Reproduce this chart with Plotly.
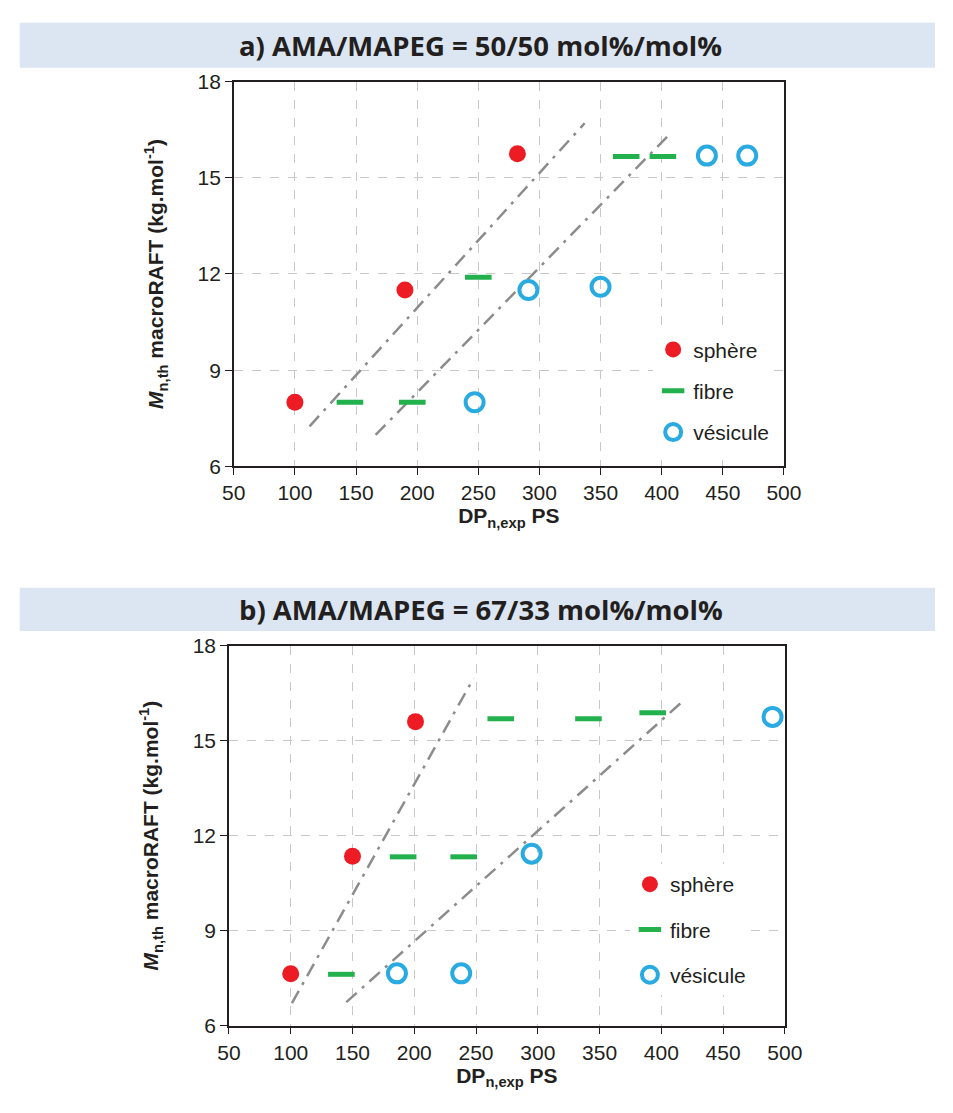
import plotly.graph_objects as go

# ---- data: panel a (AMA/MAPEG = 50/50) ----
a_sphere_x = [100, 190, 282]
a_sphere_y = [8.0, 11.5, 15.75]
a_fibre_x = [145, 196, 250, 371, 401]
a_fibre_y = [8.0, 8.0, 11.9, 15.66, 15.66]
a_ves_x = [247, 291, 350, 437, 470]
a_ves_y = [8.0, 11.5, 11.6, 15.69, 15.69]
a_line1_x = [112, 337]
a_line1_y = [7.25, 16.7]
a_line2_x = [166, 405]
a_line2_y = [6.98, 16.3]

# ---- data: panel b (AMA/MAPEG = 67/33) ----
b_sphere_x = [100, 150, 201]
b_sphere_y = [7.64, 11.35, 15.6]
b_fibre_x = [141, 191, 240, 270, 341, 393]
b_fibre_y = [7.62, 11.33, 11.33, 15.69, 15.69, 15.88]
b_ves_x = [186, 238, 295, 490]
b_ves_y = [7.65, 7.65, 11.43, 15.75]
b_line1_x = [101, 248]
b_line1_y = [6.71, 16.97]
b_line2_x = [145, 419]
b_line2_y = [6.74, 16.3]

x_ticks = [50, 100, 150, 200, 250, 300, 350, 400, 450, 500]
y_ticks = [6, 9, 12, 15, 18]
titles = ["a) AMA/MAPEG = 50/50 mol%/mol%", "b) AMA/MAPEG = 67/33 mol%/mol%"]
legend_names = ["sphère", "fibre", "vésicule"]

RED = "#ed1c24"
GREEN = "#22b14c"
BLUE = "#29abe2"
GRAY = "#8c8c8c"

W, H = 953, 1113
fig = go.Figure()

def add_panel(idx, sx, sy, fx, fy, vx, vy, l1x, l1y, l2x, l2y):
    xa = "x" if idx == 1 else "x2"
    ya = "y" if idx == 1 else "y2"
    leg = "legend" if idx == 1 else "legend2"
    for lx, ly in [(l1x, l1y), (l2x, l2y)]:
        fig.add_trace(go.Scatter(x=lx, y=ly, mode="lines", xaxis=xa, yaxis=ya,
                                 line=dict(color=GRAY, width=2.5, dash="14px,7px,3px,7px"),
                                 showlegend=False, hoverinfo="skip"))
    fig.add_trace(go.Scatter(x=sx, y=sy, mode="markers", name=legend_names[0], xaxis=xa, yaxis=ya,
                             legend=leg, legendgroup="s%d" % idx,
                             marker=dict(symbol="circle", size=17, color=RED)))
    fig.add_trace(go.Scatter(x=fx, y=fy, mode="markers", name=legend_names[1], xaxis=xa, yaxis=ya,
                             legend=leg, legendgroup="f%d" % idx,
                             marker=dict(symbol="line-ew", size=19, color=GREEN,
                                         line=dict(width=5, color=GREEN))))
    fig.add_trace(go.Scatter(x=vx, y=vy, mode="markers", name=legend_names[2], xaxis=xa, yaxis=ya,
                             legend=leg, legendgroup="v%d" % idx,
                             marker=dict(symbol="circle-open", size=18, color=BLUE,
                                         line=dict(width=4, color=BLUE))))

add_panel(1, a_sphere_x, a_sphere_y, a_fibre_x, a_fibre_y, a_ves_x, a_ves_y,
          a_line1_x, a_line1_y, a_line2_x, a_line2_y)
add_panel(2, b_sphere_x, b_sphere_y, b_fibre_x, b_fibre_y, b_ves_x, b_ves_y,
          b_line1_x, b_line1_y, b_line2_x, b_line2_y)

tick_font = dict(family="Liberation Sans, Arial", size=21, color="#231f20")
title_font = dict(family="Liberation Sans, Arial", size=21, color="#231f20")

def xaxis(domain, anchor):
    return dict(domain=domain, anchor=anchor, range=[50, 500], tickvals=x_ticks,
                showgrid=True, gridcolor="#c8c8c8", griddash="dash", gridwidth=1,
                showline=True, linecolor="#231f20", linewidth=1.5, mirror=True,
                ticks="outside", ticklen=7, tickcolor="#231f20", tickfont=tick_font,
                zeroline=False,
                title=dict(text="<b>DP<sub>n,exp</sub> PS</b>", font=title_font, standoff=0))

def yaxis(domain, anchor):
    return dict(domain=domain, anchor=anchor, range=[6, 18], tickvals=y_ticks,
                showgrid=True, gridcolor="#c8c8c8", griddash="dash", gridwidth=1,
                showline=True, linecolor="#231f20", linewidth=1.5, mirror=True,
                ticks="outside", ticklen=7, tickcolor="#231f20", tickfont=tick_font,
                zeroline=False,
                title=dict(text="<b><i>M</i><sub>n,th</sub> macroRAFT (kg.mol<sup>-1</sup>)</b>",
                           font=title_font, standoff=28))

ax_a = [229 / W, 797 / W]
ay_a = [1 - 464 / H, 1 - 71 / H]
ax_b = [224 / W, 798 / W]
ay_b = [1 - 1035 / H, 1 - 647 / H]

legend_font = dict(family="Liberation Sans, Arial", size=21, color="#231f20")
legend_common = dict(bgcolor="white", font=legend_font,
                     xanchor="left", yanchor="top", xref="paper", yref="paper",
                     itemsizing="trace", traceorder="grouped")

fig.update_layout(
    width=W, height=H, margin=dict(l=0, r=0, t=0, b=0),
    paper_bgcolor="white", plot_bgcolor="white",
    xaxis=xaxis(ax_a, "y"), yaxis=yaxis(ay_a, "x"),
    xaxis2=xaxis(ax_b, "y2"), yaxis2=yaxis(ay_b, "x2"),
    legend=dict(x=662 / W, y=1 - 324 / H, tracegroupgap=11, **legend_common),
    legend2=dict(x=638 / W, y=1 - 870 / H, tracegroupgap=15, **legend_common),
    showlegend=True,
)

# title bars
for (y0, y1), t in zip([(11, 57), (588, 632)], titles):
    fig.add_shape(type="rect", xref="paper", yref="paper", x0=8 / W, x1=1, y0=1 - y1 / H, y1=1 - y0 / H,
                  fillcolor="#dce6f2", line=dict(width=0), layer="below")
    fig.add_annotation(xref="paper", yref="paper", x=484 / W, y=1 - (y0 + y1) / 2 / H,
                       text="<b>%s</b>" % t, showarrow=False, xanchor="center", yanchor="middle",
                       font=dict(family="Open Sans", size=27.5, color="#231f20"))

fig.write_html(
    "out.html",
    config={"displayModeBar": False},
    post_script=(
        "document.documentElement.style.margin='0';document.documentElement.style.padding='0';"
        "document.body.style.margin='0';document.body.style.padding='0';"
        "document.documentElement.style.overflow='hidden';document.body.style.overflow='hidden';"
    ),
)
